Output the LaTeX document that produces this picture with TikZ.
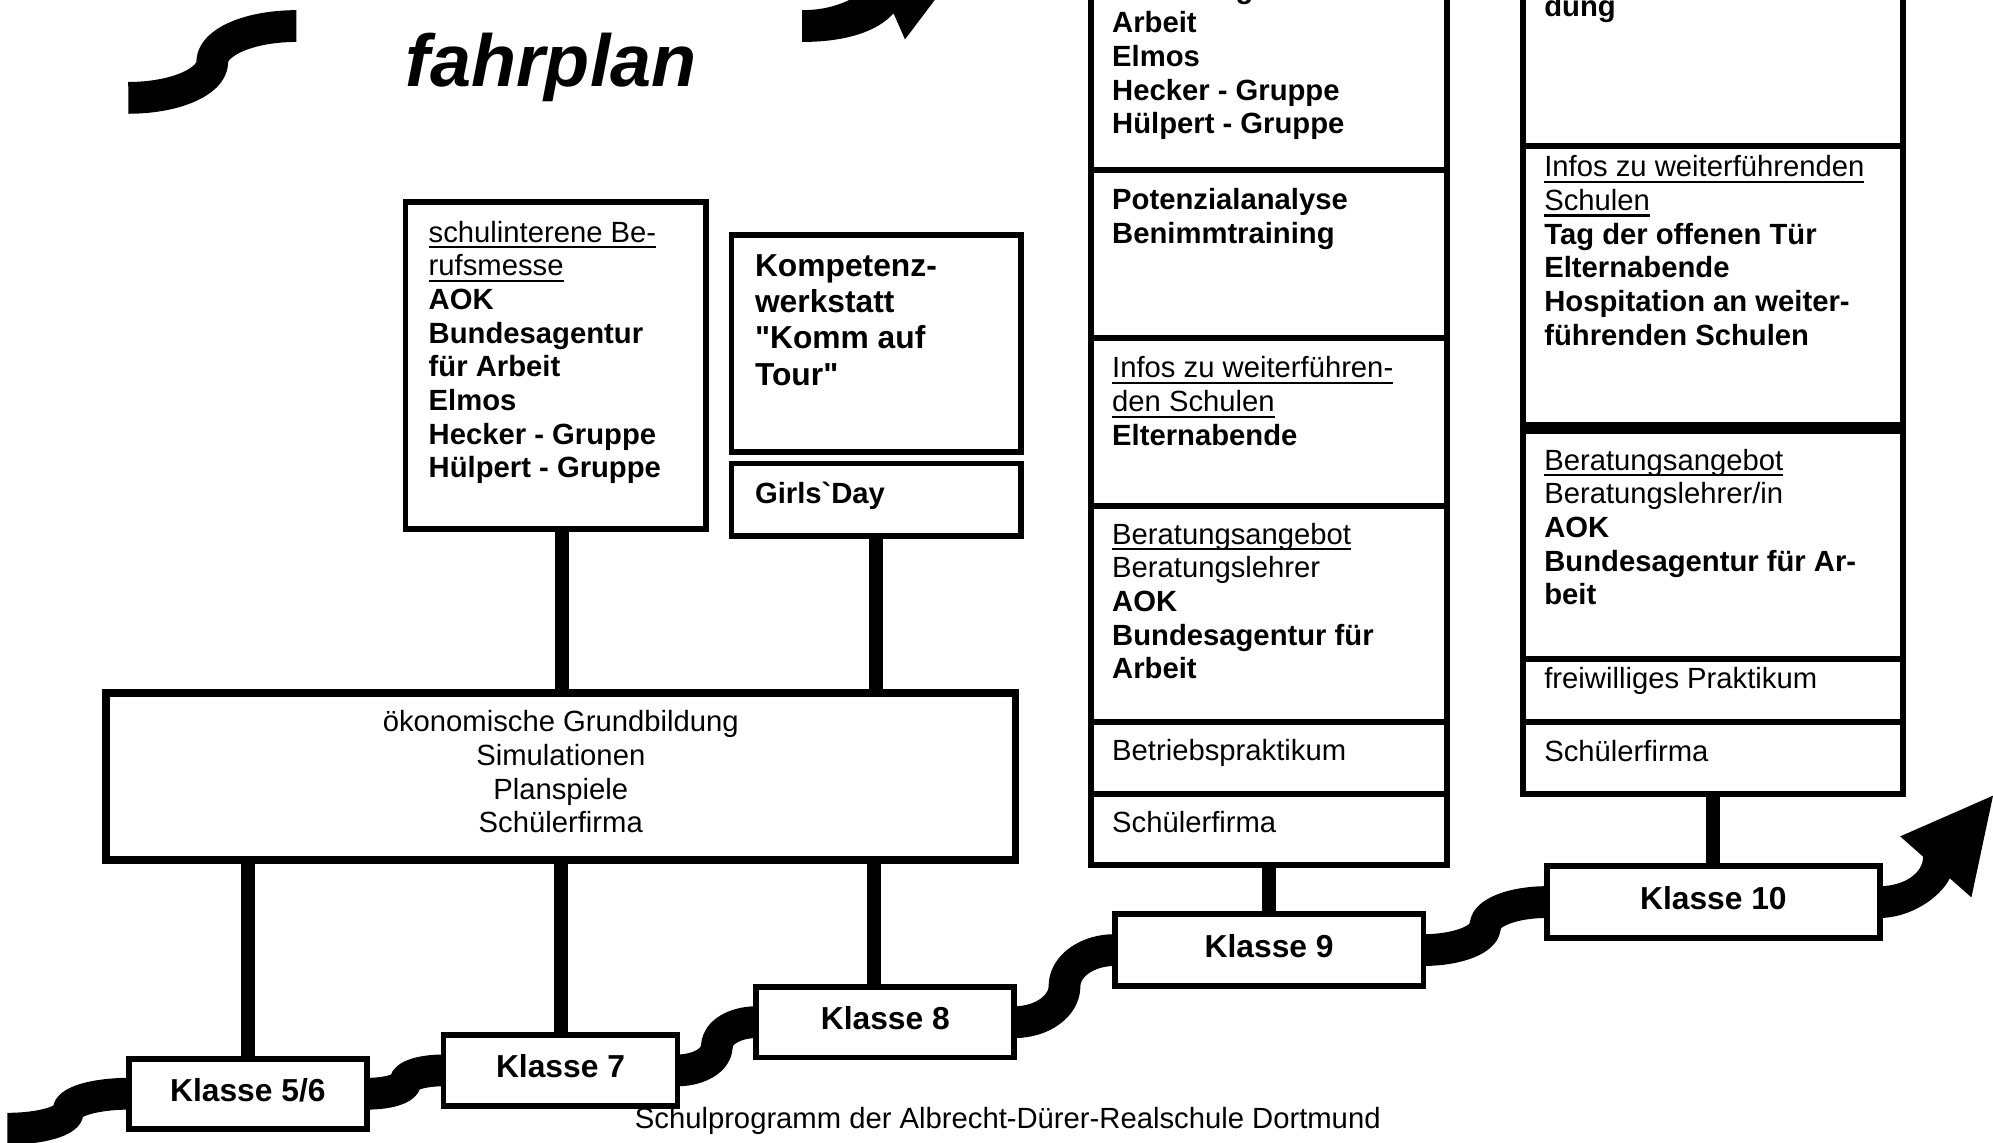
\documentclass[tikz,border=0pt]{standalone}
\usepackage{fontspec}
\setmainfont{Liberation Sans}
\newfontfamily\rawfont{Liberation Sans}
\usetikzlibrary{calc,backgrounds}
\newcommand\ulx[1]{\setbox0=\hbox{#1}\rlap{\rule[-5pt]{\wd0}{1.8pt}}\box0}
\newcommand\fla{\rule{0pt}{21pt}}
\newcommand\flb{\rule{0pt}{23pt}}
\newcommand\snake[4]{%
  \draw[band] let \p1=(#3), \p2=(#4) in
    ({\x1-#1},\y1) -- (\p1)
    .. controls ({\x1+0.276*(\x2-\x1)},\y1) and ({0.5*(\x1+\x2)},{0.5*(\y1+\y2)-0.276*(\y2-\y1)}) ..
    ({0.5*(\x1+\x2)},{0.5*(\y1+\y2)})
    .. controls ({0.5*(\x1+\x2)},{0.5*(\y1+\y2)+0.276*(\y2-\y1)}) and ({\x2-0.276*(\x2-\x1)},\y2) ..
    (\p2) -- ({\x2+#2},\y2);}
\begin{document}
\begin{tikzpicture}[x=1pt,y=-1pt,
  box/.style={draw,fill=white,line width=4.5pt,inner sep=0pt,outer sep=0pt,anchor=north west},
  mainbox/.style={box,line width=6pt},
  colbox/.style={box,line width=4.8pt},
  kbox/.style={box,font=\rawfont\bfseries\fontsize{25}{28}\selectfont,text height=15pt,text depth=3pt},
  txt/.style={inner sep=0pt,outer sep=0pt,align=left,anchor=north west,font=\rawfont\fontsize{23}{26.5}\selectfont},
  btxt/.style={txt,font=\rawfont\bfseries\fontsize{23}{26.5}\selectfont},
  oneline/.style={txt,anchor=base west},
  boneline/.style={btxt,anchor=base west},
  conn/.style={line width=11pt},
  band/.style={line width=25pt,line join=round},
]
\useasboundingbox (0,0) rectangle (1568,899);
\clip (0,0) rectangle (1568,899);

% title
\node[inner sep=0pt,anchor=base west,font=\rawfont\bfseries\itshape\fontsize{58}{60}\selectfont] (title) at (319,67.7) {fahrplan};

% boxes above the common box
\node[box,minimum width=236.5pt,minimum height=257.3pt] (s1) at (319,158.7) {};
\node[txt] (s1t) at (337.3,169.5) {\fla\ulx{schulinterene Be-}\\\ulx{rufsmesse}\\\textbf{AOK}\\\textbf{Bundesagentur}\\\textbf{für Arbeit}\\\textbf{Elmos}\\\textbf{Hecker - Gruppe}\\\textbf{Hülpert - Gruppe}};

\node[box,minimum width=227.5pt,minimum height=170.4pt] (kw) at (575.5,185) {};
\node[txt,font=\rawfont\bfseries\fontsize{25}{28.6}\selectfont] (kwt) at (594,194.2) {\flb Kompetenz-\\werkstatt\\"Komm auf\\Tour"};

\node[box,minimum width=227.5pt,minimum height=57pt] (gd) at (575.5,364.6) {};
\node[boneline] (gdt) at (594,396.5) {Girls`Day};

% common box
\node[mainbox,minimum width=715.7pt,minimum height=131.4pt] (main) at (83.3,545) {};
\node[txt,align=center,anchor=north] (maint) at (441.2,554.7) {\fla ökonomische Grundbildung\\Simulationen\\Planspiele\\Schülerfirma};

% Klasse boxes
\node[kbox,minimum width=187.4pt,minimum height=55pt] (k56) at (101.3,833) {Klasse 5/6};
\node[kbox,minimum width=184pt,minimum height=55.8pt] (k7) at (349,814.2) {Klasse 7};
\node[kbox,minimum width=203pt,minimum height=55.6pt] (k8) at (595,776.4) {Klasse 8};
\node[kbox,minimum width=243pt,minimum height=56.3pt] (k9) at (877,719.3) {Klasse 9};
\node[kbox,minimum width=262pt,minimum height=57pt] (k10) at (1217,681.2) {Klasse 10};

% Klasse 9 column
\node[colbox,minimum width=280.5pt,minimum height=193.5pt] (k9a) at (858,-60) {};
\node[colbox,minimum width=280.5pt,minimum height=132.5pt] (k9b) at (858,133.5) {};
\node[colbox,minimum width=280.5pt,minimum height=132.4pt] (k9c) at (858,266) {};
\node[colbox,minimum width=280.5pt,minimum height=169.6pt] (k9d) at (858,398.4) {};
\node[colbox,minimum width=280.5pt,minimum height=56.6pt] (k9e) at (858,568) {};
\node[colbox,minimum width=280.5pt,minimum height=55.9pt] (k9f) at (858,624.6) {};

\node[btxt] (k9at) at (875,-21.8) {\fla Bundesagentur für\\Arbeit\\Elmos\\Hecker - Gruppe\\Hülpert - Gruppe};
\node[btxt] (k9bt) at (875,143.7) {\fla Potenzialanalyse\\Benimmtraining};
\node[txt] (k9ct) at (875,276.2) {\fla\ulx{Infos zu weiterführen-}\\\ulx{den Schulen}\\\textbf{Elternabende}};
\node[txt] (k9dt) at (875,407) {\fla\ulx{Beratungsangebot}\\Beratungslehrer\\\textbf{AOK}\\\textbf{Bundesagentur für}\\\textbf{Arbeit}};
\node[oneline] (k9et) at (875,598.5) {Betriebspraktikum};
\node[oneline] (k9ft) at (875,655.1) {Schülerfirma};

% Klasse 10 column
\node[colbox,minimum width=299pt,minimum height=174.7pt] (k10a) at (1198,-60) {};
\node[colbox,minimum width=299pt,minimum height=219.4pt] (k10b) at (1198,114.7) {};
\node[colbox,minimum width=299pt,minimum height=180pt] (k10c) at (1198,338.7) {};
\node[colbox,minimum width=299pt,minimum height=49.3pt] (k10d) at (1198,518.7) {};
\node[colbox,minimum width=299pt,minimum height=56.6pt] (k10e) at (1198,568) {};

\node[boneline] (k10at) at (1215,13.1) {dung};
\node[txt] (k10bt) at (1215,118) {\fla\ulx{Infos zu weiterführenden}\\\ulx{Schulen}\\\textbf{Tag der offenen Tür}\\\textbf{Elternabende}\\\textbf{Hospitation an weiter-}\\\textbf{führenden Schulen}};
\node[txt] (k10ct) at (1215,348.8) {\fla\ulx{Beratungsangebot}\\Beratungslehrer/in\\\textbf{AOK}\\\textbf{Bundesagentur für Ar-}\\\textbf{beit}};
\node[oneline] (k10dt) at (1215,541.6) {freiwilliges Praktikum};
\node[oneline] (k10et) at (1215,599.3) {Schülerfirma};

% footer
\node[oneline] (foot) at (499.5,887.7) {Schulprogramm der Albrecht-Dürer-Realschule Dortmund};

% connectors
\draw[conn] ($(s1.south)+(5,0)$) -- ($(s1.south |- main.north)+(5,0)$);
\draw[conn] (gd.south) -- (gd.south |- main.north);
\draw[conn] (k56.north |- main.south) -- (k56.north);
\draw[conn] (k7.north |- main.south) -- (k7.north);
\draw[conn] ($(gd.south |- main.south)+(-2,0)$) -- ($(gd.south |- k8.north)+(-2,0)$);
\draw[conn] (k9f.south -| k9.north) -- (k9.north);
\draw[conn] (k10e.south -| k10.north) -- (k10.north);

% the road
\coordinate (s0) at (6,888);
\coordinate (tl0) at (101,77);
\coordinate (tl1) at (233,20.5);
\begin{pgfonlayer}{background}
  \fill[white] (0,0) rectangle (1568,899);
  \snake{0.1pt}{8pt}{s0}{k56.west}
  \snake{8pt}{8pt}{k56.east}{k7.west}
  \snake{8pt}{8pt}{k7.east}{k8.west}
  \snake{8pt}{8pt}{k8.east}{k9.west}
  \snake{8pt}{8pt}{k9.east}{k10.west}
  \snake{0.1pt}{0.1pt}{tl0}{tl1}
  \fill ($(k10.east)+(-8,-12.5)$) -- ($(k10.east)+(0,-12.5)$)
    .. controls (1499,697) and (1513,686.5) .. (1513,674)
    -- (1495,658) -- (1568,626) -- (1551,706) -- (1534,691)
    .. controls (1526,707) and (1502,722.2) .. ($(k10.east)+(0,12.5)$)
    -- ($(k10.east)+(-8,12.5)$) -- cycle;
  \fill (631,8) .. controls (648,8) and (661,4) .. (672,-2)
    -- (660,-30) -- (761,-34) -- (712,31) -- (703,10.5)
    .. controls (690,25) and (665,33) .. (631,33) -- cycle;
\end{pgfonlayer}
\end{tikzpicture}
\end{document}
